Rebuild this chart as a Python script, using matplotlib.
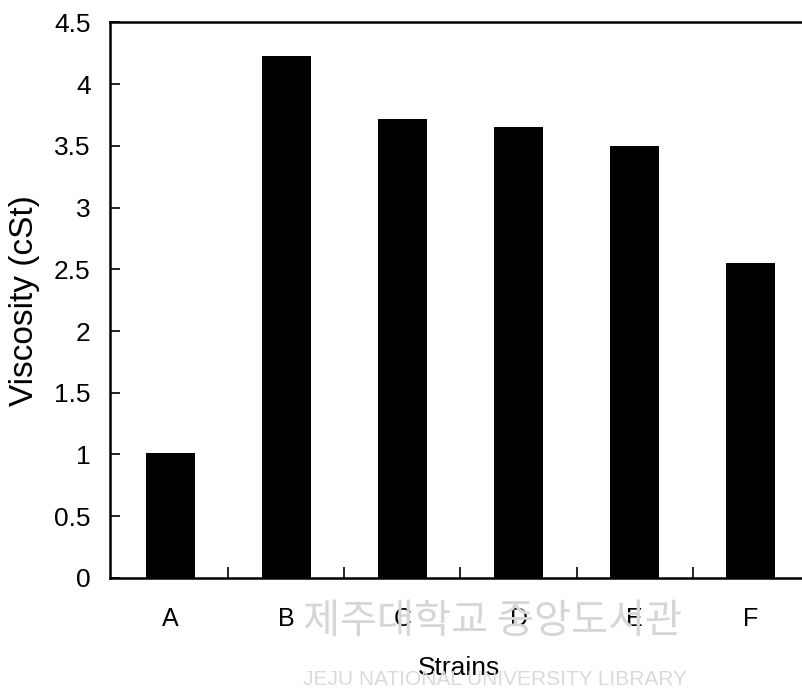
import numpy as np
import matplotlib.pyplot as plt

strains   = ['A', 'B', 'C', 'D', 'E', 'F']
viscosity = [1.01, 4.23, 3.72, 3.65, 3.50, 2.55]
y_ticks   = [0, 0.5, 1, 1.5, 2, 2.5, 3, 3.5, 4, 4.5]
y_labels  = ['0', '0.5', '1', '1.5', '2', '2.5', '3', '3.5', '4', '4.5']

plt.rcParams['font.family'] = ['Liberation Sans', 'DejaVu Sans']

fig = plt.figure(figsize=(8.03, 6.98), dpi=100)
ax = fig.add_axes([0.137, 0.172, 0.87, 0.796])

x = np.arange(len(strains))
ax.bar(x, viscosity, 0.42, color='black', zorder=3)

ax.set_xlim(-0.52, 5.5)
ax.set_ylim(0, 4.5)
ax.set_yticks(y_ticks)
ax.set_yticklabels(y_labels, fontsize=19)
ax.tick_params(axis='y', direction='in', length=7, width=1.2, pad=14)

ax.set_xticks(x)
ax.set_xticklabels(strains, fontsize=18)
ax.tick_params(axis='x', which='major', length=0, pad=21)
ax.set_xticks(x[:-1] + 0.5, minor=True)
ax.tick_params(axis='x', which='minor', direction='in', length=8, width=1.2)

for s in ax.spines.values():
    s.set_linewidth(1.8)
ax.spines['right'].set_visible(False)

ax.set_ylabel('Viscosity (cSt)', fontsize=24, labelpad=10)
ax.set_xlabel('Strains', fontsize=19, labelpad=18)

# library watermark, faint, behind everything
fig.text(0.613, 0.109, '제주대학교 중앙도서관', fontsize=29, color='#d6d6d6',
         family=['Noto Sans CJK KR', 'DejaVu Sans'], ha='center', va='center', zorder=0)
fig.text(0.616, 0.026, 'JEJU NATIONAL UNIVERSITY LIBRARY', fontsize=15, color='#dadada',
         ha='center', va='center', zorder=0)

plt.savefig('out.png', dpi=100)
